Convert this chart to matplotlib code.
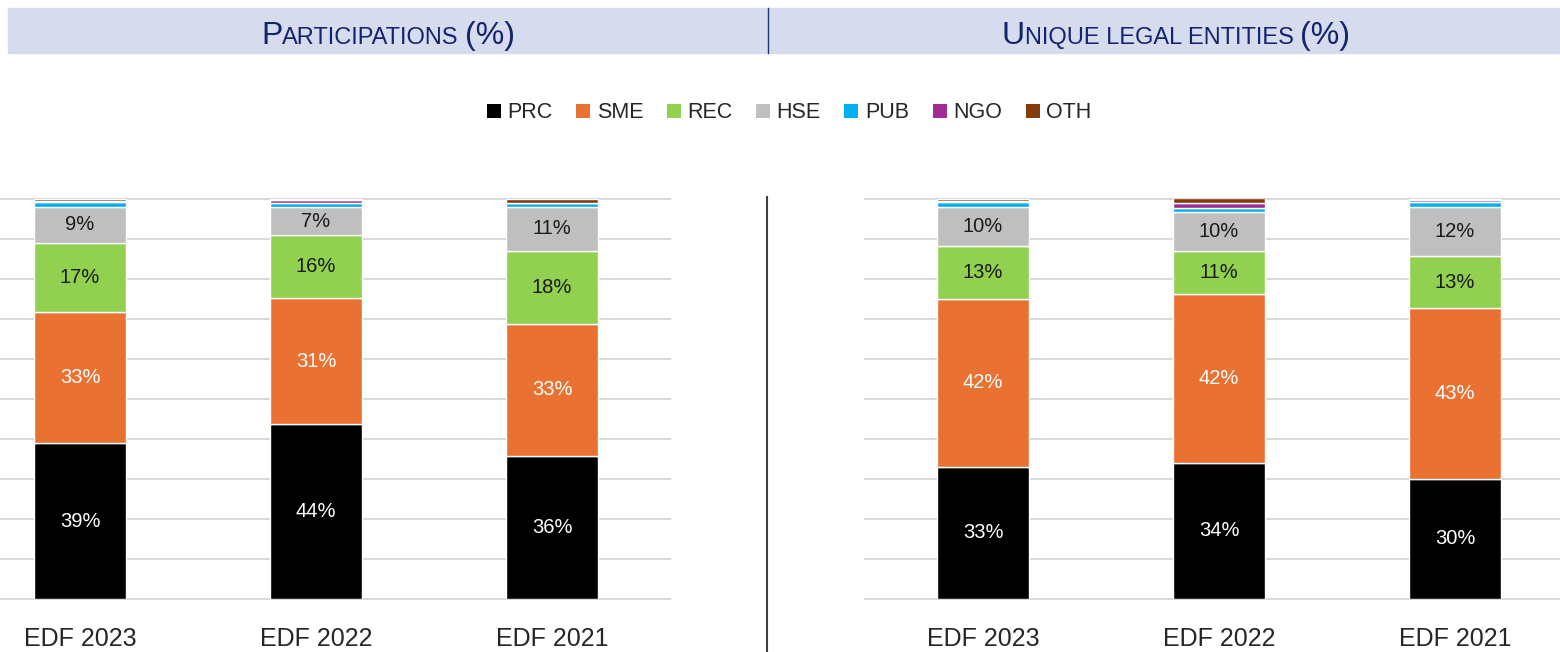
import matplotlib
matplotlib.use("Agg")
import matplotlib.pyplot as plt
import numpy as np
from matplotlib.patches import Rectangle, Patch
from matplotlib.lines import Line2D
from matplotlib.transforms import IdentityTransform

plt.rcParams['font.family'] = ['Liberation Sans', 'DejaVu Sans']
NARROW = ['Liberation Sans Narrow', 'Liberation Sans', 'DejaVu Sans']

categories = ["EDF 2023", "EDF 2022", "EDF 2021"]
series = ["PRC", "SME", "REC", "HSE", "PUB", "NGO", "OTH"]
colors = ["#000000", "#E97132", "#92D050", "#BFBFBF", "#00B0F0", "#A02B93", "#843C0C"]
label_colors = ["white", "white", "#1a1a1a", "#1a1a1a", None, None, None]

# Participations (%)
part_PRC = [38.9, 43.7, 35.7]
part_SME = [32.8, 31.4, 33.0]
part_REC = [17.2, 15.7, 18.2]
part_HSE = [9.0, 7.0, 11.0]
part_PUB = [1.2, 1.2, 1.0]
part_NGO = [0.2, 0.6, 0.1]
part_OTH = [0.5, 0.2, 0.9]

# Unique legal entities (%)
uni_PRC = [33.0, 34.0, 30.0]
uni_SME = [41.9, 42.2, 42.7]
uni_REC = [13.2, 10.7, 12.9]
uni_HSE = [9.8, 9.7, 12.3]
uni_PUB = [1.2, 1.0, 1.2]
uni_NGO = [0.3, 1.3, 0.6]
uni_OTH = [0.5, 1.1, 0.3]

part = [part_PRC, part_SME, part_REC, part_HSE, part_PUB, part_NGO, part_OTH]
uni = [uni_PRC, uni_SME, uni_REC, uni_HSE, uni_PUB, uni_NGO, uni_OTH]

W, H = 1560, 652
fig = plt.figure(figsize=(W / 100, H / 100), dpi=100)


def px_rect(x0, y0top, x1, y1bottom):
    return [x0 / W, (H - y1bottom) / H, (x1 - x0) / W, (y1bottom - y0top) / H]


def draw_panel(ax, data, xlim):
    x = np.arange(len(categories))
    bottom = np.zeros(len(categories))
    for i, (name, vals) in enumerate(zip(series, data)):
        vals = np.array(vals)
        ax.bar(x, vals, width=0.394, bottom=bottom, color=colors[i],
               edgecolor="white", linewidth=1.0, zorder=3)
        if label_colors[i] is not None:
            for xi, b, v in zip(x, bottom, vals):
                ax.text(xi, b + v / 2, f"{v:.0f}%", ha="center", va="center",
                        fontsize=14.5, color=label_colors[i], zorder=4)
        bottom = bottom + vals
    ax.set_xlim(*xlim)
    ax.set_ylim(0, 100)
    for g in range(0, 101, 10):
        ax.axhline(g, color="#D9D9D9", linewidth=1.5, zorder=1, clip_on=False)
    for s in ax.spines.values():
        s.set_visible(False)
    ax.set_yticks([])
    ax.set_xticks(x)
    ax.set_xticklabels(categories, fontsize=18, color="#262626")
    ax.tick_params(axis="x", length=0, pad=20)
    ax.patch.set_alpha(0)


ax1 = fig.add_axes(px_rect(0, 198.5, 670, 599))
draw_panel(ax1, part, (-0.5 + 38 / 236, 2.5))
ax2 = fig.add_axes(px_rect(865, 198.5, 1560, 599))
draw_panel(ax2, uni, (-0.5, -0.5 + 695 / 236))

# Header band
fig.patches.append(Rectangle((8 / W, (H - 53) / H), (W - 8) / W, 45 / H,
                             transform=fig.transFigure, color="#D6DCEE", zorder=0))
fig.lines.append(Line2D([768 / W, 768 / W], [(H - 53) / H, (H - 8) / H],
                        transform=fig.transFigure, color="#1F3470", linewidth=1))
# Panel separator
fig.lines.append(Line2D([767 / W, 767 / W], [0, (H - 197) / H],
                        transform=fig.transFigure, color="#404040", linewidth=1.5))

title_color = "#14246A"
renderer = fig.canvas.get_renderer()


def smallcaps(cx, cy_baseline_px, pieces, big=23, small=17):
    texts = []
    x = 0.0
    for s, kind, gap in pieces:
        size = big if kind == "B" else small
        t = fig.text(x, H - cy_baseline_px, s, fontsize=size, color=title_color,
                     family=NARROW, ha="left", va="baseline",
                     transform=IdentityTransform())
        bb = t.get_window_extent(renderer=renderer)
        texts.append(t)
        x += bb.width + gap
    total = x
    start = cx - total / 2
    for t in texts:
        px, py = t.get_position()
        t.set_position((px + start, py))


smallcaps(388, 44, [("P", "B", 0), ("ARTICIPATIONS", "S", 6), ("(%)", "B", 0)])
smallcaps(1176, 44, [("U", "B", 0), ("NIQUE LEGAL ENTITIES", "S", 6), ("(%)", "B", 0)])

handles = [Patch(facecolor=c, edgecolor="none") for c in colors]
fig.legend(handles, series, loc="center", bbox_to_anchor=(789 / W, (H - 113) / H),
           ncol=7, frameon=False, fontsize=15.5, handlelength=0.65, handleheight=0.65,
           handletextpad=0.3, columnspacing=1.1, labelcolor="#262626")

fig.savefig("out.png", dpi=100)
